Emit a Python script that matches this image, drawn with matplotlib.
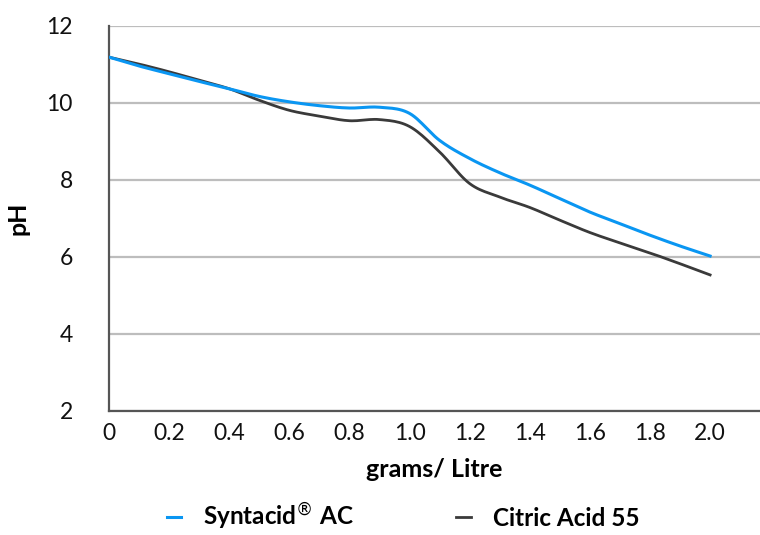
import matplotlib
matplotlib.use("Agg")
import matplotlib.pyplot as plt
import numpy as np

plt.rcParams['font.family'] = ['Lato', 'DejaVu Sans']

# grams per litre
dose = [0.0, 0.1, 0.2, 0.3, 0.4, 0.5, 0.6, 0.7, 0.8, 0.9, 1.0,
        1.1, 1.2, 1.3, 1.4, 1.5, 1.6, 1.7, 1.8, 1.9, 2.0]
syntacid_ph = [11.18, 10.95, 10.75, 10.55, 10.36, 10.16, 10.02, 9.92, 9.86, 9.88, 9.72,
               9.02, 8.55, 8.18, 7.86, 7.51, 7.16, 6.86, 6.56, 6.28, 6.02]
citric_ph = [11.18, 11.0, 10.8, 10.58, 10.36, 10.06, 9.8, 9.65, 9.53, 9.56, 9.38,
             8.72, 7.9, 7.55, 7.28, 6.95, 6.63, 6.36, 6.1, 5.82, 5.53]
series_names = ['Syntacid$^{®}$ AC', 'Citric Acid 55']
xticks = [0, 0.2, 0.4, 0.6, 0.8, 1.0, 1.2, 1.4, 1.6, 1.8, 2.0]
xtick_labels = ['0', '0.2', '0.4', '0.6', '0.8', '1.0', '1.2', '1.4', '1.6', '1.8', '2.0']
yticks = [2, 4, 6, 8, 10, 12]


def smooth(x, y, n=12):
    # cubic hermite through the points, just to round the corners
    x = np.asarray(x, float)
    y = np.asarray(y, float)
    m = np.gradient(y, x)
    xs, ys = [], []
    for i in range(len(x) - 1):
        h = x[i + 1] - x[i]
        t = np.linspace(0, 1, n, endpoint=False)
        h00 = 2 * t**3 - 3 * t**2 + 1
        h10 = t**3 - 2 * t**2 + t
        h01 = -2 * t**3 + 3 * t**2
        h11 = t**3 - t**2
        xs.append(x[i] + t * h)
        ys.append(h00 * y[i] + h10 * h * m[i] + h01 * y[i + 1] + h11 * h * m[i + 1])
    xs.append([x[-1]])
    ys.append([y[-1]])
    return np.concatenate(xs), np.concatenate(ys)


fig = plt.figure(figsize=(7.6, 5.35), dpi=100)
ax = fig.add_axes([0.1434, 0.2318, 0.8566, 0.7205])

sx, sy = smooth(dose, syntacid_ph)
cx, cy = smooth(dose, citric_ph)
ax.plot(sx, sy, color='#0a96f2', lw=2.2, label=series_names[0], zorder=3)
ax.plot(cx, cy, color='#3a3a3a', lw=2.0, label=series_names[1], zorder=2)

ax.set_xlim(0, 2.166)
ax.set_ylim(2, 12)
ax.set_xticks(xticks)
ax.set_xticklabels(xtick_labels)
ax.set_yticks(yticks)
ax.tick_params(length=0, labelsize=16.5, colors='#111111')
ax.tick_params(axis='x', pad=9)
ax.tick_params(axis='y', pad=26)
ax.grid(axis='y', color='#bdbdbd', lw=1.6)
ax.set_axisbelow(True)
for s in ['top', 'right']:
    ax.spines[s].set_visible(False)
for s in ['left', 'bottom']:
    ax.spines[s].set_color('#555555')
    ax.spines[s].set_linewidth(1.6)

ax.set_xlabel('grams/ Litre', fontsize=18, fontweight='bold', labelpad=10)
ax.set_ylabel('pH', fontsize=18, fontweight='bold', labelpad=12)

fig.legend(loc='lower center', bbox_to_anchor=(0.53, -0.036), ncol=2, frameon=False,
           prop={'size': 17.5, 'weight': 'bold'}, handlelength=0.6, columnspacing=4.2,
           handletextpad=0.9)

fig.savefig('out.png', dpi=100)
